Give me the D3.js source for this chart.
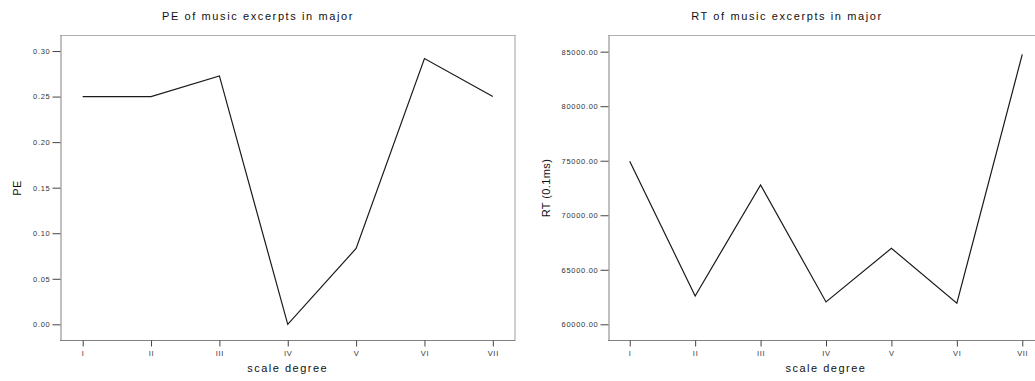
<!DOCTYPE html>
<html>
<head>
<meta charset="utf-8">
<script src="https://cdn.jsdelivr.net/npm/d3@7"></script>
<style>
  body { margin: 0; background: #fff; }
  svg { display: block; font-family: "Liberation Sans", Arial, sans-serif; }
  .title { font-size: 11px; letter-spacing: 1.6px; fill: #111; }
  .xlabel { font-size: 11px; letter-spacing: 1.5px; fill: #111; }
  .ylabel { font-size: 11px; letter-spacing: 0.4px; fill: #111; }
  .tick text { font-size: 7.5px; letter-spacing: 0.7px; fill: #333; }
  .tick line { stroke: #444; }
  .series { fill: none; stroke: #1a1a1a; stroke-width: 1.2; }
</style>
</head>
<body>
<div id="graph-container"></div>
<script>
// categories shared by both panels
const degrees = ['I', 'II', 'III', 'IV', 'V', 'VI', 'VII'];

// PE values per scale degree
const peValues = [0.25, 0.25, 0.2727, 0.0, 0.0833, 0.2917, 0.25];
const peTicks = [0.00, 0.05, 0.10, 0.15, 0.20, 0.25, 0.30];

// RT values per scale degree (0.1 ms)
const rtValues = [74950, 62600, 72780, 62050, 66970, 61930, 84760];
const rtTicks = [60000, 65000, 70000, 75000, 80000, 85000];

const svg = d3.select('#graph-container')
              .append('svg')
              .attr('width', 1035)
              .attr('height', 381);

function panel(opts) {
  const g = svg.append('g');

  const x = d3.scalePoint()
              .domain(degrees)
              .range([opts.left, opts.right])
              .padding(0.332);

  const y = d3.scaleLinear()
              .domain(opts.yDomain)
              .range([340, 35]);

  // plot frame: light top / right, darker axes
  g.append('line')
   .attr('x1', opts.left).attr('x2', opts.right)
   .attr('y1', 35.5).attr('y2', 35.5)
   .attr('stroke', '#b0b0b0');
  g.append('line')
   .attr('x1', opts.right - 0.5).attr('x2', opts.right - 0.5)
   .attr('y1', 35).attr('y2', 340)
   .attr('stroke', '#a0a0a0');

  // y axis
  const yAxis = d3.axisLeft(y)
                  .tickValues(opts.yTicks)
                  .tickFormat(d3.format('.2f'))
                  .tickSize(8)
                  .tickSizeOuter(0)
                  .tickPadding(2);
  const yg = g.append('g')
              .attr('transform', 'translate(' + (opts.left + 0.5) + ',0)')
              .call(yAxis);
  yg.select('.domain').attr('stroke', '#808080');

  // x axis
  const xAxis = d3.axisBottom(x)
                  .tickSize(6)
                  .tickSizeOuter(0)
                  .tickPadding(4);
  const xg = g.append('g')
              .attr('transform', 'translate(0,' + 340.5 + ')')
              .call(xAxis);
  xg.select('.domain')
    .attr('d', 'M' + opts.left + ',0H' + opts.right)
    .attr('stroke', '#808080');

  // series line
  const line = d3.line()
                 .x((d, i) => x(degrees[i]))
                 .y(d => y(d));
  g.append('path')
   .datum(opts.values)
   .attr('class', 'series')
   .attr('d', line);

  // texts
  g.append('text')
   .attr('class', 'title')
   .attr('text-anchor', 'middle')
   .attr('x', opts.titleX)
   .attr('y', 19.5)
   .text(opts.title);

  g.append('text')
   .attr('class', 'xlabel')
   .attr('text-anchor', 'middle')
   .attr('x', (opts.left + opts.right) / 2)
   .attr('y', 372)
   .text('scale degree');

  g.append('text')
   .attr('class', 'ylabel')
   .attr('text-anchor', 'middle')
   .attr('transform', 'translate(' + opts.yLabelX + ',188) rotate(-90)')
   .text(opts.yLabel);
}

panel({
  left: 60,
  right: 515.5,
  yDomain: [-0.0172, 0.3176],
  yTicks: peTicks,
  values: peValues,
  title: 'PE of music excerpts in major',
  titleX: 258,
  yLabel: 'PE',
  yLabelX: 20.5
});

panel({
  left: 608,
  right: 1044,
  yDomain: [58560, 86530],
  yTicks: rtTicks,
  values: rtValues,
  title: 'RT of music excerpts in major',
  titleX: 787,
  yLabel: 'RT (0.1ms)',
  yLabelX: 549.5
});
</script>
</body>
</html>
